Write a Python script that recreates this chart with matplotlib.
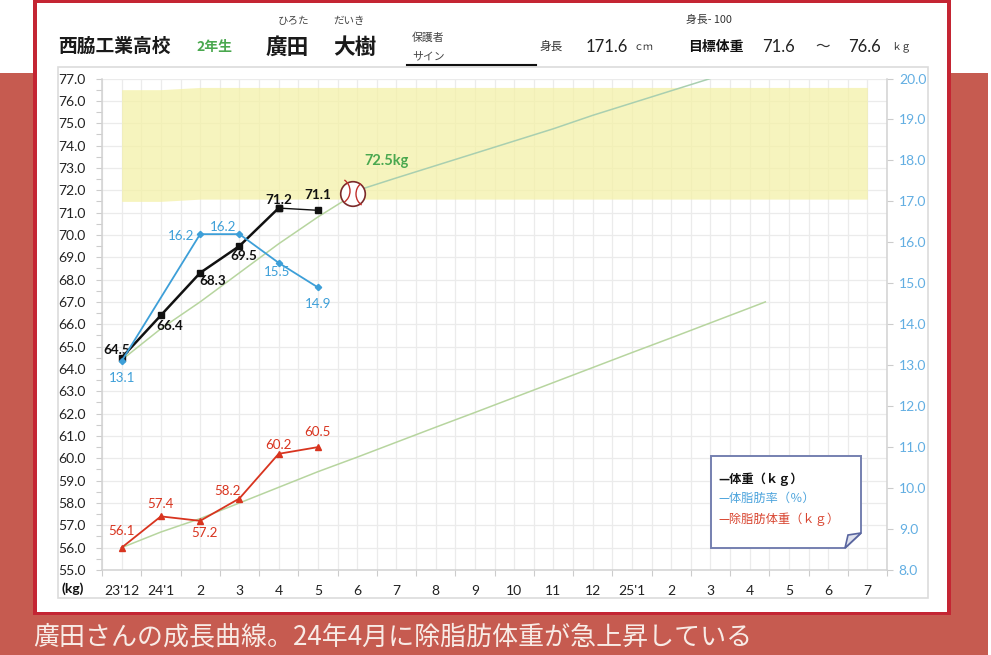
import numpy as np
import matplotlib
matplotlib.use('Agg')
import matplotlib.pyplot as plt
from matplotlib.patches import Rectangle, Polygon, Circle, Arc

plt.rcParams['font.family'] = ['Lato', 'Noto Sans CJK JP', 'DejaVu Sans']
JP = ['Noto Sans CJK JP', 'DejaVu Sans']

# data
month_labels = ["23'12", "24'1", '2', '3', '4', '5', '6', '7', '8', '9', '10', '11', '12',
                "25'1", '2', '3', '4', '5', '6', '7']
weight_x = [0, 1, 2, 3, 4, 5]
weight = [64.5, 66.4, 68.3, 69.5, 71.2, 71.1]
fat_x = [0, 2, 3, 4, 5]
fat = [13.1, 16.2, 16.2, 15.5, 14.9]
lean_x = [0, 1, 2, 3, 4, 5]
# first point sits on 56.0 in the picture although it is labelled 56.1
lean = [56.0, 57.4, 57.2, 58.2, 60.2, 60.5]
lean_labels = ['56.1', '57.4', '57.2', '58.2', '60.2', '60.5']

target_x = [0, 1, 2, 3, 4, 5, 6, 6.2, 7, 8, 9, 10, 11, 12, 13, 14, 15]
target_upper = [64.4, 65.8, 67.0, 68.3, 69.6, 70.8, 71.9, 72.1, 72.55, 73.1, 73.65, 74.2, 74.75,
                75.35, 75.9, 76.45, 77.0]
target_lean_x = [0, 1, 2, 3, 4, 5, 6, 7, 8, 9, 10, 11, 12, 13, 14, 15, 16, 16.4]
target_lean = [56.0, 56.7, 57.3, 58.0, 58.7, 59.4, 60.05, 60.72, 61.39, 62.05, 62.72, 63.39,
               64.06, 64.73, 65.39, 66.06, 66.73, 67.0]

band_x = [0, 1, 2, 19]
band_low = [71.5, 71.5, 71.6, 71.6]
band_high = [76.5, 76.5, 76.6, 76.6]

# label offsets in pixels from the point
weight_off = [(-5, 8), (9, -11), (13, -8), (4, -10), (0, 8), (0, 15)]
fat_off = [(0, -17), (-19, -2), (-16, 7), (-2, -9), (0, -17)]
lean_off = [(0, 17), (0, 12), (4, -12), (-12, 8), (0, 9), (0, 15)]

W, H = 991, 655
BLACK = '#111111'
BLUE = '#3d9fd8'
RED = '#d8341f'
GREEN = '#4aa84f'
FRAME = '#c42533'
PAGE = '#c65b50'
GRID = '#ebebeb'

fig = plt.figure(figsize=(W / 100, H / 100), dpi=100, facecolor='white')

# page behind the chart, in image pixels
bg = fig.add_axes([0, 0, 1, 1], zorder=0)
bg.set_xlim(0, W)
bg.set_ylim(H, 0)
bg.axis('off')
bg.add_patch(Rectangle((0, 73), 988, H - 73, fc=PAGE, ec='none'))
bg.add_patch(Rectangle((33, 0), 918, 615, fc=FRAME, ec='none'))
bg.add_patch(Rectangle((37, 3), 910, 609, fc='white', ec='none'))
bg.add_patch(Rectangle((58, 67), 870, 531, fc='none', ec='#dcdcdc', lw=1.2))

# weight axis
ax = fig.add_axes([102 / W, (H - 570) / H, 785 / W, 491.5 / H], zorder=1)
ax.patch.set_visible(False)
ax.set_xlim(-0.5, 19.5)
ax.set_ylim(55, 77)
ax.set_yticks(np.arange(55, 78))
ax.set_yticklabels(['%.1f' % v for v in np.arange(55, 78)], fontsize=10, color='#222222')
ax.set_yticks(np.arange(55.5, 77, 1), minor=True)
ax.set_xticks(np.arange(20))
ax.set_xticklabels(month_labels, fontsize=10, color='#222222')
ax.set_xticks(np.arange(-0.5, 20, 1), minor=True)
ax.tick_params(axis='x', which='major', length=0, pad=11)
ax.tick_params(axis='x', which='minor', length=4, width=0.8, color='#cccccc')
ax.tick_params(axis='y', which='both', length=4, width=0.8, color='#cccccc', pad=8)
ax.grid(True, which='major', color=GRID, lw=0.9)
ax.grid(True, which='minor', axis='x', color=GRID, lw=0.9)
ax.set_axisbelow(True)
for s in ['top', 'right']:
    ax.spines[s].set_visible(False)
for s in ['left', 'bottom']:
    ax.spines[s].set_color('#d2d2d2')
    ax.spines[s].set_linewidth(1.1)

# band is see-through so the grid still shows under it
ax.fill_between(band_x, band_low, band_high, color='#f4f1a8', alpha=0.75, lw=0, zorder=2.5)
ax.plot(target_x[:8], target_upper[:8], color='#b7d59f', lw=1.1, zorder=3)
ax.plot(target_x[7:], target_upper[7:], color='#a9cfb0', lw=1.1, zorder=3)
ax.plot(target_lean_x, target_lean, color='#b7d59f', lw=1.1, zorder=3)

ax.plot(weight_x[:5], weight[:5], color=BLACK, lw=1.8, marker='s', ms=5, zorder=5)
ax.plot(weight_x[4:], weight[4:], color=BLACK, lw=1, marker='s', ms=5, zorder=5)
ax.plot(lean_x, lean, color=RED, lw=1.3, marker='^', ms=4.5, zorder=5)

for x, y, off in zip(weight_x, weight, weight_off):
    ax.annotate('%.1f' % y, (x, y), xytext=off, textcoords='offset pixels', ha='center',
                va='center', fontsize=9.7, fontweight='bold', color=BLACK, zorder=7)
for x, y, s, off in zip(lean_x, lean, lean_labels, lean_off):
    ax.annotate(s, (x, y), xytext=off, textcoords='offset pixels', ha='center',
                va='center', fontsize=9.6, color=RED, zorder=7)

# body fat axis
ax2 = ax.twinx()
ax2.patch.set_visible(False)
ax2.set_ylim(8, 20)
ax2.set_yticks(np.arange(8, 21))
ax2.set_yticklabels(['%.1f' % v for v in np.arange(8, 21)], fontsize=10, color='#62aee2')
ax2.tick_params(axis='y', length=4, width=0.8, color='#cccccc', pad=4.5)
for s in ['top', 'left', 'bottom']:
    ax2.spines[s].set_visible(False)
ax2.spines['right'].set_color('#d2d2d2')
ax2.spines['right'].set_linewidth(1.1)
ax2.plot(fat_x, fat, color=BLUE, lw=1.3, marker='D', ms=3.2, zorder=5)
for x, y, off in zip(fat_x, fat, fat_off):
    ax2.annotate('%.1f' % y, (x, y), xytext=off, textcoords='offset pixels', ha='center',
                 va='center', fontsize=9.6, color=BLUE, zorder=7)

# everything on top, in image pixels again
top = fig.add_axes([0, 0, 1, 1], zorder=3)
top.set_xlim(0, W)
top.set_ylim(H, 0)
top.axis('off')
top.patch.set_visible(False)


def put(x, y, s, size, color='#222222', weight='normal', ha='left', family=JP):
    top.text(x, y, s, fontsize=size, color=color, fontweight=weight, ha=ha, va='center',
             family=family)


put(58, 46, '西脇工業高校', 13.5, '#1a1a1a', 'bold')
put(196, 47, '2年生', 10, GREEN, 'bold')
put(266, 47, '廣田', 15.6, '#1a1a1a', 'bold')
put(333, 47, '大樹', 15.6, '#1a1a1a', 'bold')
put(294, 21, 'ひろた', 7.6, '#444444', ha='center')
put(349, 21, 'だいき', 7.6, '#444444', ha='center')
put(412, 38, '保護者', 7.8, '#444444')
put(412, 56, 'サイン', 7.8, '#444444')
top.plot([407, 536], [64.5, 64.5], color='#111111', lw=1.5)
put(539, 47, '身長', 8.4, '#333333')
put(586, 47, '171.6', 12, '#222222', family=['Lato'])
put(634, 47, 'ｃｍ', 7.2, '#333333')
put(688, 47, '目標体重', 10, '#111111', 'bold')
put(762, 47, '71.6', 12, '#222222', family=['Lato'])
put(815, 47, '～', 10.5, '#333333')
put(848, 47, '76.6', 12, '#222222', family=['Lato'])
put(891, 47, 'ｋｇ', 7.2, '#333333')
put(686, 20, '身長- 100', 7.8, '#333333')
put(73, 589, '(kg)', 10, '#111111', 'bold', ha='center', family=['Lato'])
put(387, 161, '72.5kg', 10.5, GREEN, 'bold', ha='center', family=['Lato'])
put(33, 637, '廣田さんの成長曲線。24年4月に除脂肪体重が急上昇している', 18.7, '#f8ebe6')

# baseball marker on the target line
top.add_patch(Circle((353, 194), 12.3, fc='white', ec='#7a2a2a', lw=1.2))
top.add_patch(Arc((338, 191), 24, 26, theta1=-60, theta2=60, ec='#c0302c', lw=1))
top.add_patch(Arc((368, 194), 24, 26, theta1=120, theta2=235, ec='#c0302c', lw=1))

# note shaped legend
note = [(711, 456), (861, 456), (861, 533), (845, 548), (711, 548)]
top.add_patch(Polygon(note, closed=True, fc='white', ec='#7580b0', lw=1.4))
top.add_patch(Polygon([(845, 548), (848, 535), (861, 533)], closed=True, fc='#dfe2ee',
                      ec='#59659f', lw=1.2))
put(718, 479, '—体重（ｋｇ）', 8.8, '#111111', 'bold')
put(718, 498, '—体脂肪率（％）', 8.8, '#4ba3dc')
put(718, 519, '—除脂肪体重（ｋｇ）', 8.8, '#d8442f')

fig.savefig('out.png', dpi=100)
